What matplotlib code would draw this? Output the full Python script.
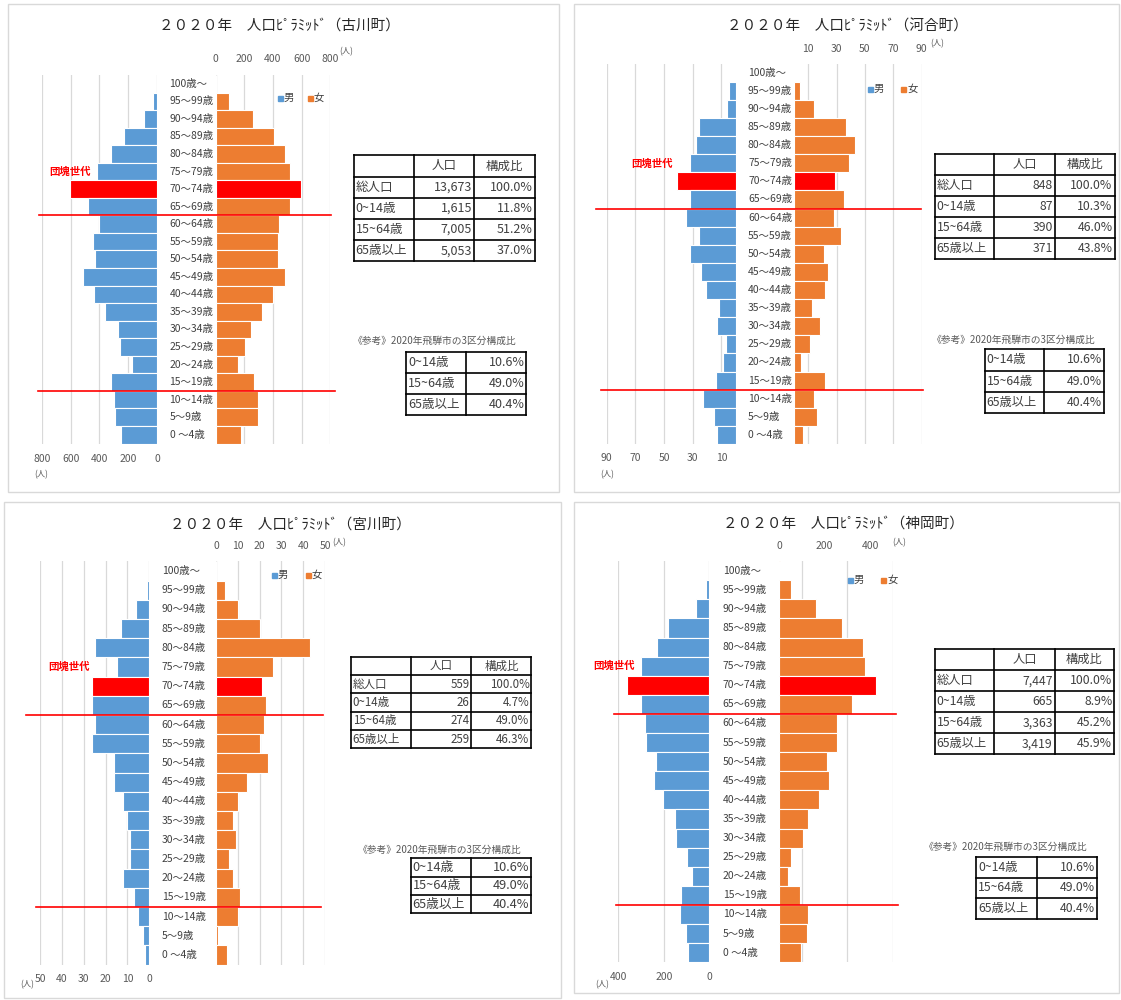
import matplotlib
matplotlib.use("Agg")
import matplotlib.pyplot as plt
from matplotlib.patches import Rectangle
from matplotlib.transforms import blended_transform_factory as blend

plt.rcParams['font.family'] = ['Noto Sans CJK JP', 'DejaVu Sans']

W, H = 1121, 1000

# ---- data ----
ages = ["100歳～", "95～99歳", "90～94歳", "85～89歳", "80～84歳", "75～79歳",
        "70～74歳", "65～69歳", "60～64歳", "55～59歳", "50～54歳", "45～49歳",
        "40～44歳", "35～39歳", "30～34歳", "25～29歳", "20～24歳", "15～19歳",
        "10～14歳", "5～9歳", "0 ～4歳"]
boom_age = "70～74歳"

towns = ["古川町", "河合町", "宮川町", "神岡町"]

furukawa_male = [0, 29, 94, 232, 319, 415, 604, 477, 406, 445, 433, 514, 435, 363, 269, 257, 175, 321, 299, 292, 250]
furukawa_female = [5, 91, 259, 405, 486, 518, 592, 518, 439, 437, 434, 486, 402, 323, 244, 202, 158, 271, 298, 298, 177]

kawai_male = [0, 5, 6, 26, 28, 32, 41, 32, 35, 26, 32, 24, 21, 12, 13, 7, 9, 14, 23, 15, 13]
kawai_female = [0, 4, 14, 37, 43, 39, 29, 35, 28, 33, 21, 24, 22, 13, 18, 11, 5, 22, 14, 16, 6]

miyakawa_male = [0, 1, 6, 13, 25, 15, 26, 26, 25, 26, 16, 16, 12, 10, 9, 9, 12, 7, 5, 3, 2]
miyakawa_female = [0, 4, 10, 20, 43, 26, 21, 23, 22, 20, 24, 14, 10, 8, 9, 6, 8, 11, 10, 1, 5]

kamioka_male = [0, 15, 57, 181, 229, 301, 361, 302, 282, 280, 235, 242, 203, 150, 147, 97, 76, 125, 127, 102, 94]
kamioka_female = [3, 53, 163, 276, 366, 377, 425, 319, 254, 254, 211, 218, 175, 127, 105, 54, 39, 93, 128, 122, 94]

summary_header = ["", "人口", "構成比"]
summary_rows = ["総人口", "0~14歳", "15~64歳", "65歳以上"]
furukawa_pop = ["13,673", "1,615", "7,005", "5,053"]
furukawa_ratio = ["100.0%", "11.8%", "51.2%", "37.0%"]
kawai_pop = ["848", "87", "390", "371"]
kawai_ratio = ["100.0%", "10.3%", "46.0%", "43.8%"]
miyakawa_pop = ["559", "26", "274", "259"]
miyakawa_ratio = ["100.0%", "4.7%", "49.0%", "46.3%"]
kamioka_pop = ["7,447", "665", "3,363", "3,419"]
kamioka_ratio = ["100.0%", "8.9%", "45.2%", "45.9%"]

hida_note = "《参考》2020年飛騨市の3区分構成比"
hida_rows = ["0~14歳", "15~64歳", "65歳以上"]
hida_ratio = ["10.6%", "49.0%", "40.4%"]

male_ticks = [[800, 600, 400, 200, 0], [90, 70, 50, 30, 10], [50, 40, 30, 20, 10, 0], [400, 200, 0]]
female_ticks = [[0, 200, 400, 600, 800], [10, 30, 50, 70, 90], [0, 10, 20, 30, 40, 50], [0, 200, 400]]
female_grid = [[0, 200, 400, 600, 800], [10, 30, 50, 70, 90], [0, 10, 20, 30, 40, 50], [100, 300, 500]]
axis_max = [(800, 800), (90, 90), (50, 50), (400, 500)]

series = [(furukawa_male, furukawa_female, furukawa_pop, furukawa_ratio),
          (kawai_male, kawai_female, kawai_pop, kawai_ratio),
          (miyakawa_male, miyakawa_female, miyakawa_pop, miyakawa_ratio),
          (kamioka_male, kamioka_female, kamioka_pop, kamioka_ratio)]

# ---- layout (pixel positions of each panel) ----
layouts = [
    dict(box=(8, 4.3, 559, 491.7), title=(279.5, 26), male=(41.8, 157.1), female=(215.5, 330.4),
         rows=(75, 443.5), top_y=59.3, bot_y=459.3, unit_top=(346, 51.7), unit_bot=(41, 475),
         label_x=169.5, legend=(98.3, 280, 310), boom=69.5, red_up=(39, 331), red_lo=(37.5, 335),
         t1=([353.6, 413.6, 474.3, 534.6], 155.3, 21.2, 9), ref=(435, 341.3),
         t2=([406, 466, 526.4], 351.7, 21, 9)),
    dict(box=(574.3, 4.3, 1119, 491.7), title=(847, 26.7), male=(606.8, 735.8), female=(794, 921.7),
         rows=(63.6, 444), top_y=48.7, bot_y=458.3, unit_top=(937.3, 43.3), unit_bot=(607, 475),
         label_x=748, legend=(89.3, 870, 903.6), boom=652.5, red_up=(596, 920.7), red_lo=(600.5, 922.5),
         t1=([934.5, 994.4, 1054.7, 1114.6], 154.3, 21, 8.8), ref=(1013.6, 340),
         t2=([984.5, 1044.4, 1104.4], 349.3, 21.2, 8.8)),
    dict(box=(4.3, 501.7, 560.5, 998.3), title=(290, 524.3), male=(40, 149.3), female=(216, 325),
         rows=(561.4, 964.6), top_y=545.7, bot_y=979.3, unit_top=(339, 542.7), unit_bot=(26.8, 985),
         label_x=161.6, legend=(575, 274, 308), boom=68.6, red_up=(25.7, 322.5), red_lo=(36.4, 320.7),
         t1=([350.7, 410.7, 471.4, 531.4], 656.7, 18.3, 8.3), ref=(439.7, 850),
         t2=([410.7, 471.4, 531.4], 858.3, 18.3, 9.2)),
    dict(box=(574, 501.7, 1119, 993), title=(843.6, 523.3), male=(618.3, 709.3), female=(779.2, 893),
         rows=(561.1, 962.2), top_y=545.7, bot_y=976.7, unit_top=(899.4, 542.7), unit_bot=(602.2, 985),
         label_x=722.7, legend=(580, 850, 883), boom=614.5, red_up=(613.6, 895.5), red_lo=(616.4, 898.3),
         t1=([934.5, 994.4, 1054.7, 1114.3], 649.3, 21, 8.8), ref=(1005.6, 846.7),
         t2=([976.3, 1037, 1097], 856.7, 20.8, 8.8)),
]

BLUE = '#5B9BD5'
ORANGE = '#ED7D31'
RED = '#FF0000'
GRID = '#D9D9D9'
TXT = '#404040'
TICK = '#595959'

fig = plt.figure(figsize=(W / 100, H / 100), dpi=100)


def rect(x0, x1, y0, y1):
    return [x0 / W, 1 - y1 / H, (x1 - x0) / W, (y1 - y0) / H]


def draw_table(ov, xs, top, h, rows, fs, header=None):
    nrow = len(rows) + (1 if header else 0)
    for i in range(nrow + 1):
        ov.plot([xs[0], xs[-1]], [top + i * h] * 2, color='black', lw=1.2, solid_capstyle='projecting')
    for x in xs:
        ov.plot([x, x], [top, top + nrow * h], color='black', lw=1.2, solid_capstyle='projecting')
    r0 = 0
    if header:
        for j, t in enumerate(header):
            ov.text((xs[j] + xs[j + 1]) / 2, top + h / 2, t, ha='center', va='center', fontsize=fs, color=TXT)
        r0 = 1
    for i, row in enumerate(rows):
        yc = top + (i + r0) * h + h / 2
        ov.text(xs[0] + 2, yc, row[0], ha='left', va='center', fontsize=fs, color=TXT)
        for j in range(1, len(row)):
            ov.text(xs[j + 1] - 2, yc, row[j], ha='right', va='center', fontsize=fs, color=TXT)


ov = fig.add_axes([0, 0, 1, 1], zorder=5)
ov.set_xlim(0, W)
ov.set_ylim(H, 0)
ov.axis('off')

n = len(ages)
ypos = list(range(n - 1, -1, -1))
boom_i = ages.index(boom_age)

for k, lay in enumerate(layouts):
    males, females, pop, ratio = series[k]
    mmax, fmax = axis_max[k]
    y0, y1 = lay['rows']

    # panel border
    bx0, by0, bx1, by1 = lay['box']
    ov.add_patch(Rectangle((bx0, by0), bx1 - bx0, by1 - by0, fill=False, ec=GRID, lw=1))

    ax_m = fig.add_axes(rect(lay['male'][0], lay['male'][1], y0, y1))
    ax_f = fig.add_axes(rect(lay['female'][0], lay['female'][1], y0, y1))
    for ax, lim in ((ax_m, (mmax, 0)), (ax_f, (0, fmax))):
        ax.set_xlim(*lim)
        ax.set_ylim(-0.5, n - 0.5)
        ax.set_axis_off()

    for g in male_ticks[k]:
        ax_m.axvline(g, color=GRID, lw=0.9, zorder=0.5)
    for g in female_grid[k]:
        ax_f.axvline(g, color=GRID, lw=0.9, zorder=0.5)

    mcol = [RED if i == boom_i else BLUE for i in range(n)]
    fcol = [RED if i == boom_i else ORANGE for i in range(n)]
    ax_m.barh(ypos, males, height=1.0, color=mcol, edgecolor='white', linewidth=0.8, zorder=2)
    ax_f.barh(ypos, females, height=1.0, color=fcol, edgecolor='white', linewidth=0.8, zorder=2)

    # tick labels
    tm = blend(ax_m.transData, ov.transData)
    tf = blend(ax_f.transData, ov.transData)
    for t in male_ticks[k]:
        ax_m.text(t, lay['bot_y'], str(t), transform=tm, ha='center', va='center',
                  fontsize=7.5, color=TICK, clip_on=False)
    for t in female_ticks[k]:
        ax_f.text(t, lay['top_y'], str(t), transform=tf, ha='center', va='center',
                  fontsize=7.5, color=TICK, clip_on=False)
    ov.text(*lay['unit_top'], '(人)', ha='center', va='center', fontsize=6, color=TICK)
    ov.text(*lay['unit_bot'], '(人)', ha='center', va='center', fontsize=6, color=TICK)

    # age labels
    ty = blend(ov.transData, ax_m.transData)
    for i, a in enumerate(ages):
        ov.text(lay['label_x'], ypos[i], a, transform=ty, ha='left', va='center',
                fontsize=7.5, color=TXT)

    # title
    ov.text(*lay['title'], f"２０２０年　人口ﾋﾟﾗﾐｯﾄﾞ（{towns[k]}）", ha='center', va='center',
            fontsize=10.5, color='#262626')

    # legend
    ly, lx1, lx2 = lay['legend']
    for lx, c, lab in ((lx1, BLUE, '男'), (lx2, ORANGE, '女')):
        ov.add_patch(Rectangle((lx - 2.5, ly - 2.5), 5, 5, color=c))
        ov.text(lx + 4, ly, lab, ha='left', va='center', fontsize=7.5, color=TXT)

    # boomer label
    ov.text(lay['boom'], ypos[boom_i] + 1, '団塊世代', transform=ty, ha='center', va='center',
            fontsize=7.5, color=RED, fontweight='bold')

    # red age-group separators
    up = ypos[ages.index("60～64歳")] + 0.5
    lo = ypos[ages.index("10～14歳")] + 0.5
    ov.plot(lay['red_up'], [up, up], transform=ty, color=RED, lw=1.2, clip_on=False)
    ov.plot(lay['red_lo'], [lo, lo], transform=ty, color=RED, lw=1.2, clip_on=False)

    # tables
    xs, top, h, fs = lay['t1']
    draw_table(ov, xs, top, h, [[r, p, q] for r, p, q in zip(summary_rows, pop, ratio)], fs,
               header=summary_header)
    ov.text(*lay['ref'], hida_note, ha='center', va='center', fontsize=7, color=TICK)
    xs, top, h, fs = lay['t2']
    draw_table(ov, xs, top, h, [[r, q] for r, q in zip(hida_rows, hida_ratio)], fs)

fig.savefig('out.png', dpi=100, facecolor='white')
